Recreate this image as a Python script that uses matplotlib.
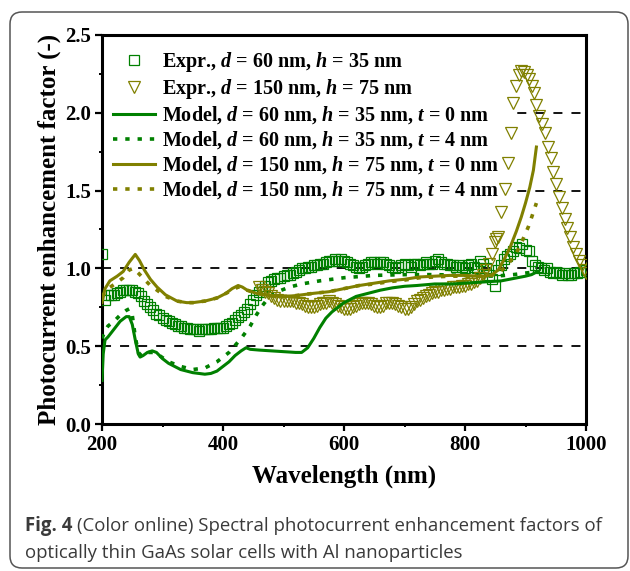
import matplotlib

matplotlib.use("Agg")

import matplotlib.pyplot as plt
from matplotlib.patches import FancyBboxPatch
from matplotlib.ticker import MultipleLocator


GREEN = "#008000"
OLIVE = "#808000"

# experiment, d = 60 nm, h = 35 nm (squares)
exp60_x = [200, 205, 210, 215, 220, 225, 230, 235, 240, 245, 250, 255, 260, 265, 270, 275, 280, 285, 290, 295,
           300, 305, 310, 315, 320, 325, 330, 335, 340, 345, 350, 355, 360, 365, 370, 375, 380, 385, 390, 395,
           400, 405, 410, 415, 420, 425, 430, 435, 440, 445, 450, 455, 460, 465, 470, 475, 480, 485, 490, 495,
           500, 505, 510, 515, 520, 525, 530, 535, 540, 545, 550, 555, 560, 565, 570, 575, 580, 585, 590, 595,
           600, 605, 610, 615, 620, 625, 630, 635, 640, 645, 650, 655, 660, 665, 670, 675, 680, 685, 690, 695,
           700, 705, 710, 715, 720, 725, 730, 735, 740, 745, 750, 755, 760, 765, 770, 775, 780, 785, 790, 795,
           800, 805, 810, 815, 820, 825, 830, 835, 840, 845, 850, 855, 860, 865, 870, 875, 880, 885, 890, 895,
           900, 905, 910, 915, 920, 925, 930, 935, 940, 945, 950, 955, 960, 965, 970, 975, 980, 985, 990, 995, 1000]
exp60_y = [1.09, 0.80, 0.83, 0.83, 0.83, 0.84, 0.85, 0.86, 0.86, 0.86, 0.86, 0.85, 0.84, 0.82, 0.79, 0.77, 0.75, 0.73, 0.71, 0.70,
           0.68, 0.67, 0.66, 0.65, 0.64, 0.63, 0.63, 0.62, 0.62, 0.61, 0.61, 0.61, 0.60, 0.61, 0.61, 0.61, 0.61, 0.62, 0.62, 0.62,
           0.62, 0.63, 0.64, 0.65, 0.67, 0.69, 0.70, 0.72, 0.74, 0.77, 0.80, 0.83, 0.85, 0.87, 0.89, 0.91, 0.92, 0.93, 0.94, 0.94,
           0.95, 0.96, 0.96, 0.97, 0.98, 0.99, 1.00, 1.00, 1.01, 1.01, 1.02, 1.02, 1.03, 1.03, 1.04, 1.05, 1.05, 1.06, 1.05, 1.06,
           1.05, 1.04, 1.03, 1.02, 1.01, 1.00, 1.01, 1.02, 1.03, 1.04, 1.04, 1.03, 1.04, 1.04, 1.03, 1.02, 1.01, 1.00, 1.01, 1.02,
           1.03, 1.02, 1.01, 1.03, 1.03, 1.02, 1.03, 1.04, 1.03, 1.03, 1.05, 1.06, 1.04, 1.03, 1.03, 1.02, 1.02, 1.01, 1.02, 1.01,
           1.00, 1.02, 1.03, 1.01, 1.00, 1.05, 1.03, 1.00, 0.96, 0.93, 0.89, 0.99, 1.02, 1.06, 1.08, 1.09, 1.11, 1.14, 1.13, 1.16,
           1.12, 1.11, 1.05, 1.02, 1.01, 1.00, 0.99, 1.00, 0.98, 0.97, 0.98, 0.97, 0.96, 0.97, 0.96, 0.96, 0.97, 0.97, 0.98, 0.98, 0.99]

# experiment, d = 150 nm, h = 75 nm (triangles)
exp150_x = [460, 465, 470, 475, 480, 485, 490, 495, 500, 505, 510, 515, 520, 525, 530, 535, 540, 545, 550, 555,
            560, 565, 570, 575, 580, 585, 590, 595, 600, 605, 610, 615, 620, 625, 630, 635, 640, 645, 650, 655,
            660, 665, 670, 675, 680, 685, 690, 695, 700, 705, 710, 715, 720, 725, 730, 735, 740, 745, 750, 755,
            760, 765, 770, 775, 780, 785, 790, 795, 800, 805, 810, 815, 820, 825, 830, 835, 840, 845, 850, 852,
            855, 860, 866, 871, 876, 880, 884, 889, 893, 897, 902, 906, 910, 914, 918, 923, 927, 932, 937, 942,
            946, 950, 955, 960, 965, 969, 974, 979, 984, 988, 993, 997, 1000]
exp150_y = [0.88, 0.86, 0.85, 0.84, 0.82, 0.81, 0.80, 0.79, 0.79, 0.79, 0.79, 0.79, 0.78, 0.78, 0.77, 0.76, 0.75, 0.75, 0.75, 0.76,
            0.77, 0.78, 0.78, 0.79, 0.78, 0.77, 0.76, 0.75, 0.74, 0.74, 0.74, 0.75, 0.76, 0.77, 0.78, 0.78, 0.78, 0.77, 0.76, 0.75,
            0.75, 0.76, 0.78, 0.78, 0.78, 0.77, 0.76, 0.75, 0.74, 0.74, 0.75, 0.77, 0.79, 0.80, 0.81, 0.82, 0.83, 0.84, 0.85, 0.85,
            0.86, 0.86, 0.87, 0.87, 0.88, 0.88, 0.88, 0.89, 0.89, 0.90, 0.90, 0.91, 0.92, 0.94, 0.96, 0.99, 1.03, 1.09, 1.17, 1.19,
            1.20, 1.36, 1.51, 1.68, 1.87, 2.06, 2.17, 2.24, 2.27, 2.26, 2.24, 2.22, 2.17, 2.13, 2.05, 1.98, 1.93, 1.87, 1.78, 1.71,
            1.62, 1.54, 1.46, 1.39, 1.32, 1.26, 1.20, 1.14, 1.09, 1.05, 1.02, 0.99, 0.97]

# model, d = 60 nm, t = 0 nm
m60_t0_x = [200, 202, 205, 210, 220, 230, 240, 245, 250, 255, 260, 263, 268, 275, 283, 290, 300, 310, 320, 330,
            340, 350, 360, 370, 380, 390, 400, 410, 420, 430, 438, 445, 460, 480, 500, 520, 530, 540, 550, 560,
            570, 580, 600, 620, 640, 660, 680, 700, 720, 750, 780, 800, 820, 840, 860, 880, 900, 910, 920]
m60_t0_y = [0.28, 0.45, 0.54, 0.56, 0.61, 0.66, 0.69, 0.69, 0.64, 0.54, 0.45, 0.43, 0.44, 0.46, 0.47, 0.46, 0.42, 0.39, 0.37, 0.35,
            0.34, 0.33, 0.325, 0.32, 0.325, 0.34, 0.37, 0.40, 0.44, 0.47, 0.49, 0.48, 0.475, 0.47, 0.465, 0.46, 0.46, 0.49, 0.55, 0.62,
            0.68, 0.72, 0.78, 0.82, 0.84, 0.86, 0.875, 0.885, 0.89, 0.90, 0.90, 0.905, 0.91, 0.915, 0.92, 0.935, 0.95, 0.96, 0.98]

# model, d = 60 nm, t = 4 nm
m60_t4_x = [200, 205, 210, 220, 230, 240, 245, 250, 255, 260, 265, 275, 285, 295, 310, 330, 350, 370, 390, 410,
            430, 445, 455, 465, 475, 490, 510, 530, 560, 600, 650, 700, 750, 800, 850, 880, 900, 920]
m60_t4_y = [0.55, 0.60, 0.63, 0.66, 0.70, 0.73, 0.74, 0.70, 0.56, 0.46, 0.44, 0.46, 0.46, 0.44, 0.40, 0.37, 0.35, 0.36, 0.40, 0.46,
            0.55, 0.63, 0.70, 0.76, 0.81, 0.85, 0.88, 0.90, 0.92, 0.94, 0.955, 0.96, 0.96, 0.955, 0.95, 0.96, 0.97, 0.98]

# model, d = 150 nm, t = 0 nm
m150_t0_x = [200, 205, 213, 225, 235, 245, 255, 262, 270, 280, 291, 305, 324, 340, 350, 370, 390, 405, 415, 425,
             432, 440, 455, 470, 490, 510, 530, 550, 575, 600, 625, 650, 675, 700, 725, 750, 775, 800, 820, 835,
             845, 855, 865, 875, 885, 893, 900, 907, 913, 918]
m150_t0_y = [0.78, 0.87, 0.92, 0.95, 0.98, 1.04, 1.09, 1.05, 0.99, 0.93, 0.88, 0.83, 0.79, 0.78, 0.78, 0.79, 0.81, 0.84, 0.87, 0.89,
             0.88, 0.86, 0.84, 0.83, 0.82, 0.82, 0.83, 0.84, 0.85, 0.87, 0.89, 0.905, 0.92, 0.93, 0.945, 0.95, 0.955, 0.955, 0.95, 0.95,
             0.96, 0.99, 1.06, 1.14, 1.24, 1.33, 1.42, 1.52, 1.63, 1.78]

# model, d = 150 nm, t = 4 nm
m150_t4_x = [200, 210, 225, 235, 245, 252, 260, 270, 280, 291, 305, 324, 340, 350, 370, 390, 405, 415, 425, 432,
             440, 455, 470, 490, 510, 530, 550, 575, 600, 625, 650, 675, 700, 725, 750, 775, 800, 820, 840, 855,
             870, 885, 895, 905, 912, 918]
m150_t4_y = [0.82, 0.87, 0.91, 0.94, 0.99, 1.00, 0.97, 0.93, 0.89, 0.86, 0.82, 0.79, 0.78, 0.78, 0.79, 0.81, 0.84, 0.86, 0.88, 0.88,
             0.86, 0.84, 0.83, 0.82, 0.82, 0.83, 0.84, 0.85, 0.87, 0.89, 0.90, 0.915, 0.925, 0.94, 0.945, 0.95, 0.95, 0.95, 0.95, 0.97,
             1.02, 1.10, 1.18, 1.27, 1.35, 1.42]

guide_levels = [0.5, 1.0, 1.5, 2.0]

labels = [
    r"Expr., $\mathbfit{d}$ = 60 nm, $\mathbfit{h}$ = 35 nm",
    r"Expr., $\mathbfit{d}$ = 150 nm, $\mathbfit{h}$ = 75 nm",
    r"Model, $\mathbfit{d}$ = 60 nm, $\mathbfit{h}$ = 35 nm, $\mathbfit{t}$ = 0 nm",
    r"Model, $\mathbfit{d}$ = 60 nm, $\mathbfit{h}$ = 35 nm, $\mathbfit{t}$ = 4 nm",
    r"Model, $\mathbfit{d}$ = 150 nm, $\mathbfit{h}$ = 75 nm, $\mathbfit{t}$ = 0 nm",
    r"Model, $\mathbfit{d}$ = 150 nm, $\mathbfit{h}$ = 75 nm, $\mathbfit{t}$ = 4 nm",
]


def main():
    plt.rcParams["font.family"] = "Liberation Serif"
    plt.rcParams["font.weight"] = "bold"
    plt.rcParams["axes.labelweight"] = "bold"
    plt.rcParams["mathtext.fontset"] = "custom"
    plt.rcParams["mathtext.rm"] = "Liberation Serif:bold"
    plt.rcParams["mathtext.bf"] = "Liberation Serif:bold"
    plt.rcParams["mathtext.it"] = "Liberation Serif:italic:bold"
    plt.rcParams["mathtext.bfit"] = "Liberation Serif:italic:bold"

    fig = plt.figure(figsize=(6.3, 5.71), dpi=100)
    fig.patch.set_facecolor("white")
    ax = fig.add_axes([102 / 630, 1 - 424 / 571, 484 / 630, 389 / 571])

    for level in guide_levels:
        ax.axhline(level, color="black", lw=1.3, ls=(0, (5, 5)), zorder=1)

    dot = (0, (1.2, 2.2))
    ax.plot(exp60_x, exp60_y, ls="none", marker="s", ms=6.5, mfc="none", mec=GREEN, mew=0.9, label=labels[0], zorder=3)
    ax.plot(exp150_x, exp150_y, ls="none", marker="v", ms=8.5, mfc="none", mec=OLIVE, mew=0.9, label=labels[1], zorder=3)
    ax.plot(m60_t0_x, m60_t0_y, color=GREEN, lw=2.2, label=labels[2], zorder=4)
    ax.plot(m60_t4_x, m60_t4_y, color=GREEN, lw=2.6, ls=dot, label=labels[3], zorder=4)
    ax.plot(m150_t0_x, m150_t0_y, color=OLIVE, lw=2.2, label=labels[4], zorder=4)
    ax.plot(m150_t4_x, m150_t4_y, color=OLIVE, lw=2.6, ls=dot, label=labels[5], zorder=4)

    ax.set_xlim(200, 1000)
    ax.set_ylim(0, 2.5)
    ax.xaxis.set_major_locator(MultipleLocator(200))
    ax.xaxis.set_minor_locator(MultipleLocator(100))
    ax.yaxis.set_major_locator(MultipleLocator(0.5))
    ax.yaxis.set_minor_locator(MultipleLocator(0.25))
    ax.set_yticklabels([f"{v:.1f}" for v in ax.get_yticks()])
    ax.tick_params(which="major", direction="out", length=5, width=1.6, labelsize=15, pad=3)
    ax.tick_params(which="minor", direction="out", length=2.5, width=1.4)
    for spine in ax.spines.values():
        spine.set_linewidth(2.2)
    ax.set_xlabel("Wavelength (nm)", fontsize=18, fontweight="bold", labelpad=7)
    ax.set_ylabel("Photocurrent enhancement factor (-)", fontsize=18, fontweight="bold", labelpad=3)

    leg = ax.legend(
        loc="upper left",
        bbox_to_anchor=(0.0, 0.99),
        prop={"family": "Liberation Serif", "weight": "bold", "size": 14.5},
        frameon=True,
        facecolor="white",
        edgecolor="none",
        framealpha=1,
        fancybox=False,
        handlelength=2.1,
        handletextpad=0.35,
        labelspacing=0.16,
        borderpad=0.45,
        borderaxespad=0.1,
        numpoints=1,
    )
    # data markers sit above the legend box, guide lines below it
    leg.set_zorder(2)

    # caption under the plot
    renderer = fig.canvas.get_renderer()
    caption_color = "#3a3a3a"
    size = 13.4
    head = fig.text(25 / 630, 1 - 526 / 571, "Fig. 4", fontsize=size, family="Open Sans",
                    weight="bold", color=caption_color, va="center")
    head_box = head.get_window_extent(renderer)
    fig.text(head_box.x1 / 630 + 5 / 630, 1 - 526 / 571,
             "(Color online) Spectral photocurrent enhancement factors of",
             fontsize=size, family="Open Sans", weight="normal", color=caption_color, va="center")
    fig.text(25 / 630, 1 - 553 / 571, "optically thin GaAs solar cells with Al nanoparticles",
             fontsize=size, family="Open Sans", weight="normal", color=caption_color, va="center")

    frame = FancyBboxPatch((0.10, 0.03), 6.18, 5.56, boxstyle="round,pad=0,rounding_size=0.12",
                           transform=fig.dpi_scale_trans, fill=False, edgecolor="#555555", lw=1.1)
    fig.patches.append(frame)

    fig.savefig("out.png", dpi=100, facecolor="white")
    plt.close(fig)


if __name__ == "__main__":
    main()
